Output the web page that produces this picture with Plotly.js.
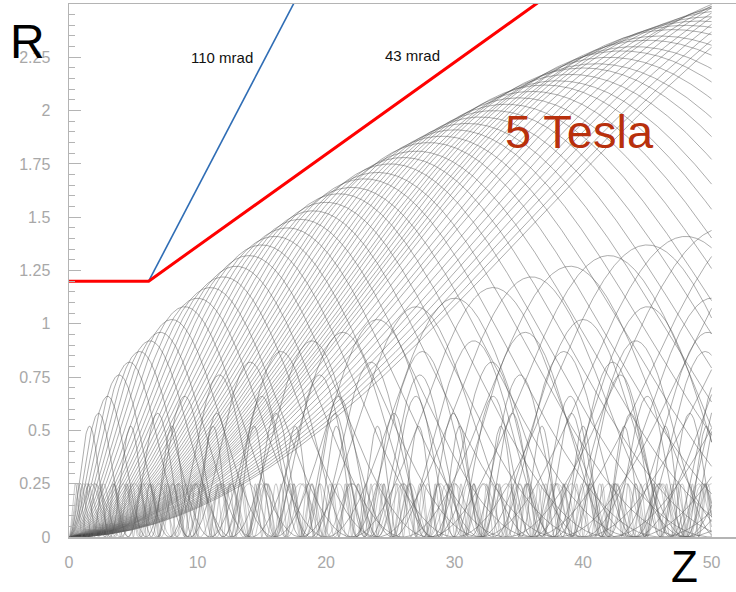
<!DOCTYPE html>
<html>
<head>
<meta charset="utf-8">
<script src="https://cdn.plot.ly/plotly-3.0.1.min.js"></script>
<style>html,body{margin:0;padding:0;background:#fff;}#chart{width:736px;height:592px;}</style>
</head>
<body>
<div id="chart"></div>
<script>
// ---- data ----
// fan of trajectories: z of first maximum and maximum radius of each track
const fanPeakZ = [1.6, 2.3, 3.0, 3.9, 4.7, 5.5, 6.3, 7.1, 8.0, 9.0, 10.0, 11.0, 12.0, 13.0, 14.0, 15.0,
  16.0, 17.0, 18.0, 19.0, 20.0, 21.0, 22.0, 23.0, 24.0, 25.0, 26.0, 27.0, 28.0, 29.0, 30.0, 31.0,
  32.0, 33.0, 34.0, 35.0, 36.0, 37.0, 38.0, 39.0, 40.0, 41.0, 42.0, 43.0, 44.0, 45.0, 46.0, 47.0,
  48.0, 49.0, 50.0, 51.5, 53.0, 54.5, 56.0, 58.0, 60.0, 62.0, 64.0, 66.0, 68.0, 70.0, 72.0];
const fanPeakR = [0.52, 0.58, 0.66, 0.76, 0.82, 0.87, 0.92, 0.96, 1.02, 1.08, 1.12, 1.17, 1.22, 1.27, 1.32, 1.37,
  1.41, 1.45, 1.49, 1.53, 1.57, 1.61, 1.64, 1.68, 1.71, 1.75, 1.78, 1.81, 1.85, 1.88, 1.91, 1.94,
  1.97, 2.00, 2.03, 2.06, 2.09, 2.12, 2.14, 2.17, 2.20, 2.22, 2.25, 2.28, 2.30, 2.33, 2.35, 2.38,
  2.40, 2.42, 2.44, 2.47, 2.50, 2.53, 2.57, 2.61, 2.66, 2.70, 2.75, 2.79, 2.83, 2.87, 2.92];
// low-momentum band: tracks reaching R = 0.25, z of first maximum
const bandPeakZ = [0.5, 0.7, 0.9, 1.15, 1.4, 1.7, 2.0];
const bandPeakR = [0.25, 0.25, 0.25, 0.25, 0.25, 0.25, 0.25];
// beam pipe (43 mrad) and 110 mrad cone
const pipeZ = [0, 6.2, 37.5];
const pipeR = [1.2, 1.2, 2.55];
const coneZ = [6.2, 17.9];
const coneR = [1.2, 2.55];
const zMax = 50;
const xTickVals = [0, 10, 20, 30, 40, 50];
const yTickVals = [0, 0.25, 0.5, 0.75, 1, 1.25, 1.5, 1.75, 2, 2.25];
const yTickText = ['0', '0.25', '0.5', '0.75', '1', '1.25', '1.5', '1.75', '2', '2.25'];

// ---- build helix projections from the read parameters ----
function tracks(peakZ, peakR, dz) {
  const xs = [], ys = [];
  for (let i = 0; i < peakZ.length; i++) {
    const n = Math.round(zMax / dz);
    for (let k = 0; k <= n; k++) {
      const z = k * dz;
      const s = Math.sin(Math.PI * z / (2 * peakZ[i]));
      xs.push(z); ys.push(peakR[i] * s * s);
    }
    xs.push(null); ys.push(null);
  }
  return {xs, ys};
}
const fan = tracks(fanPeakZ, fanPeakR, 0.04);
const band = tracks(bandPeakZ, bandPeakR, 0.02);

const data = [
  {x: fan.xs, y: fan.ys, type: 'scatter', mode: 'lines', line: {color: 'rgba(80,80,80,0.68)', width: 0.7}, connectgaps: false, hoverinfo: 'skip'},
  {x: band.xs, y: band.ys, type: 'scatter', mode: 'lines', line: {color: 'rgba(110,110,110,0.55)', width: 0.7}, connectgaps: false, hoverinfo: 'skip'},
  {x: coneZ, y: coneR, type: 'scatter', mode: 'lines', line: {color: '#2f6db5', width: 1.6}, hoverinfo: 'skip'},
  {x: pipeZ, y: pipeR, type: 'scatter', mode: 'lines', line: {color: '#ff0000', width: 3}, hoverinfo: 'skip'}
];

const layout = {
  width: 736, height: 592,
  margin: {l: 69, r: 0, t: 4, b: 55},
  paper_bgcolor: '#fff', plot_bgcolor: '#fff',
  showlegend: false,
  font: {family: 'Liberation Sans, Arial, sans-serif'},
  xaxis: {
    range: [0, 51.9], showgrid: false, zeroline: false,
    showline: true, linecolor: '#b4b4b4', linewidth: 1.5, mirror: true,
    ticks: '', tickvals: xTickVals, ticktext: xTickVals.map(String),
    tickfont: {size: 16, color: '#a8a8a8'}, ticklabelstandoff: 10
  },
  yaxis: {
    range: [0, 2.5], showgrid: false, zeroline: false,
    showline: true, linecolor: '#b4b4b4', linewidth: 1.5,
    ticks: 'inside', ticklen: 12, tickcolor: '#b4b4b4', tickwidth: 1,
    tickvals: yTickVals, ticktext: yTickText,
    tickfont: {size: 16, color: '#a8a8a8'}, ticklabelstandoff: 14,
    minor: {dtick: 0.05, ticks: 'inside', ticklen: 6, tickcolor: '#b4b4b4', tickwidth: 1}
  },
  annotations: [
    {text: '110 mrad', x: 11.9, y: 2.25, xref: 'x', yref: 'y', showarrow: false,
     font: {size: 15, color: '#111'}},
    {text: '43 mrad', x: 26.7, y: 2.26, xref: 'x', yref: 'y', showarrow: false,
     font: {size: 15, color: '#111'}},
    {text: '5 Tesla', x: 33.8, y: 1.9, xref: 'x', yref: 'y', xanchor: 'left', yanchor: 'middle', showarrow: false,
     font: {size: 47, color: '#b8300c'}},
    {text: 'R', x: -0.0615, y: 0.929, xref: 'paper', yref: 'paper', xanchor: 'center', yanchor: 'middle', showarrow: false,
     font: {size: 48, color: '#000'}},
    {text: 'Z', x: 0.9235, y: -0.056, xref: 'paper', yref: 'paper', xanchor: 'center', yanchor: 'middle', showarrow: false,
     font: {size: 44, color: '#000'}}
  ]
};

Plotly.newPlot('chart', data, layout, {staticPlot: true, displayModeBar: false});
</script>
</body>
</html>
